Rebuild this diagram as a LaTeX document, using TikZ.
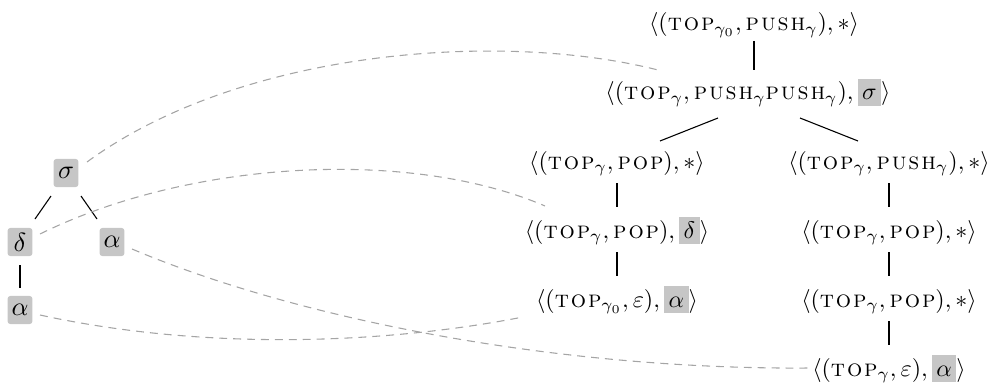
\documentclass[tikz,border=0pt]{standalone}
\usetikzlibrary{calc}
\definecolor{hlgray}{RGB}{198,198,198}
\definecolor{dashgray}{RGB}{165,165,165}
\newcommand{\opTop}{\mbox{\textsc{t\kern0.8pt o\kern0.8pt p}}}
\newcommand{\opPush}{\mbox{\textsc{p\kern0.8pt u\kern0.8pt s\kern0.8pt h}}}
\newcommand{\opPop}{\mbox{\textsc{p\kern0.8pt o\kern0.8pt p}}}
\newcommand{\hlb}[1]{{\setlength{\fboxsep}{0pt}\colorbox{hlgray}{\rule[-2.4pt]{0pt}{11.2pt}\hspace{1.9pt}$#1$\hspace{1.9pt}}}}
\tikzset{
  row/.style={inner sep=0pt, anchor=base},
  lbox/.style={fill=hlgray, rounded corners=1.2pt, minimum width=10.4pt, minimum height=11.7pt, inner sep=0pt, font=\fontsize{11}{13}\selectfont},
  edge/.style={line width=0.45pt},
  lnk/.style={dashgray, dash pattern=on 3.3pt off 2.5pt, line width=0.45pt}
}
\begin{document}
\begin{tikzpicture}[x=0.4167pt, y=-0.4167pt]
\useasboundingbox (0,0) rectangle (992,387);
% right tree
\node[row] (n1) at (754,31) {$\langle(\opTop_{\gamma_0}, \opPush_{\gamma}), \ast\rangle$};
\node[row] (n2) at (748,100) {$\langle(\opTop_{\gamma}, \opPush_{\gamma}\opPush_{\gamma}), \hlb{\sigma}\rangle$};
\node[row] (n3) at (617,169) {$\langle(\opTop_{\gamma}, \opPop), \ast\rangle$};
\node[row] (n4) at (617,238) {$\langle(\opTop_{\gamma}, \opPop), \hlb{\delta}\rangle$};
\node[row] (n5) at (617,307) {$\langle(\opTop_{\gamma_0}, \varepsilon), \hlb{\alpha}\rangle$};
\node[row] (n6) at (889,169) {$\langle(\opTop_{\gamma}, \opPush_{\gamma}), \ast\rangle$};
\node[row] (n7) at (889,238) {$\langle(\opTop_{\gamma}, \opPop), \ast\rangle$};
\node[row] (n8) at (889,307) {$\langle(\opTop_{\gamma}, \opPop), \ast\rangle$};
\node[row] (n9) at (889,376) {$\langle(\opTop_{\gamma}, \varepsilon), \hlb{\alpha}\rangle$};
\draw[edge] ($(n1.base)+(0,10)$) -- ($(n2.base)+(6,-30)$);
\draw[edge] ($(n2.base)+(-30,18)$) -- ($(n3.base)+(43,-28)$);
\draw[edge] ($(n2.base)+(52,18)$) -- ($(n6.base)+(-31,-28)$);
\draw[edge] ($(n3.base)+(0,14)$) -- ($(n4.base)+(0,-31)$);
\draw[edge] ($(n4.base)+(0,14)$) -- ($(n5.base)+(0,-31)$);
\draw[edge] ($(n6.base)+(0,14)$) -- ($(n7.base)+(0,-31)$);
\draw[edge] ($(n7.base)+(0,14)$) -- ($(n8.base)+(0,-31)$);
\draw[edge] ($(n8.base)+(0,14)$) -- ($(n9.base)+(0,-31)$);
% left tree
\node[lbox] (sL) at (66,173) {$\sigma$};
\node[lbox] (dL) at (20,242) {$\delta$};
\node[lbox] (aR) at (112,242) {$\alpha$};
\node[lbox] (aL) at (20,310) {$\alpha$};
\draw[edge] ($(sL)+(-15,23)$) -- ($(dL)+(15,-23)$);
\draw[edge] ($(sL)+(15,23)$) -- ($(aR)+(-15,-23)$);
\draw[edge] ($(dL)+(0,23)$) -- ($(aL)+(0,-22)$);
% links
\draw[lnk] ($(sL)+(21,-11)$) .. controls (240,50) and (500,30) .. ($(n2.base)+(-90,-30)$);
\draw[lnk] ($(dL)+(20,-8)$) .. controls (190,160) and (410,148) .. ($(n4.base)+(-72,-32)$);
\draw[lnk] ($(aL)+(20,5)$) .. controls (200,350) and (380,345) .. ($(n5.base)+(-94,10)$);
\draw[lnk] ($(aR)+(20,7)$) .. controls (300,320) and (560,370) .. ($(n9.base)+(-79,-8)$);
\end{tikzpicture}
\end{document}
